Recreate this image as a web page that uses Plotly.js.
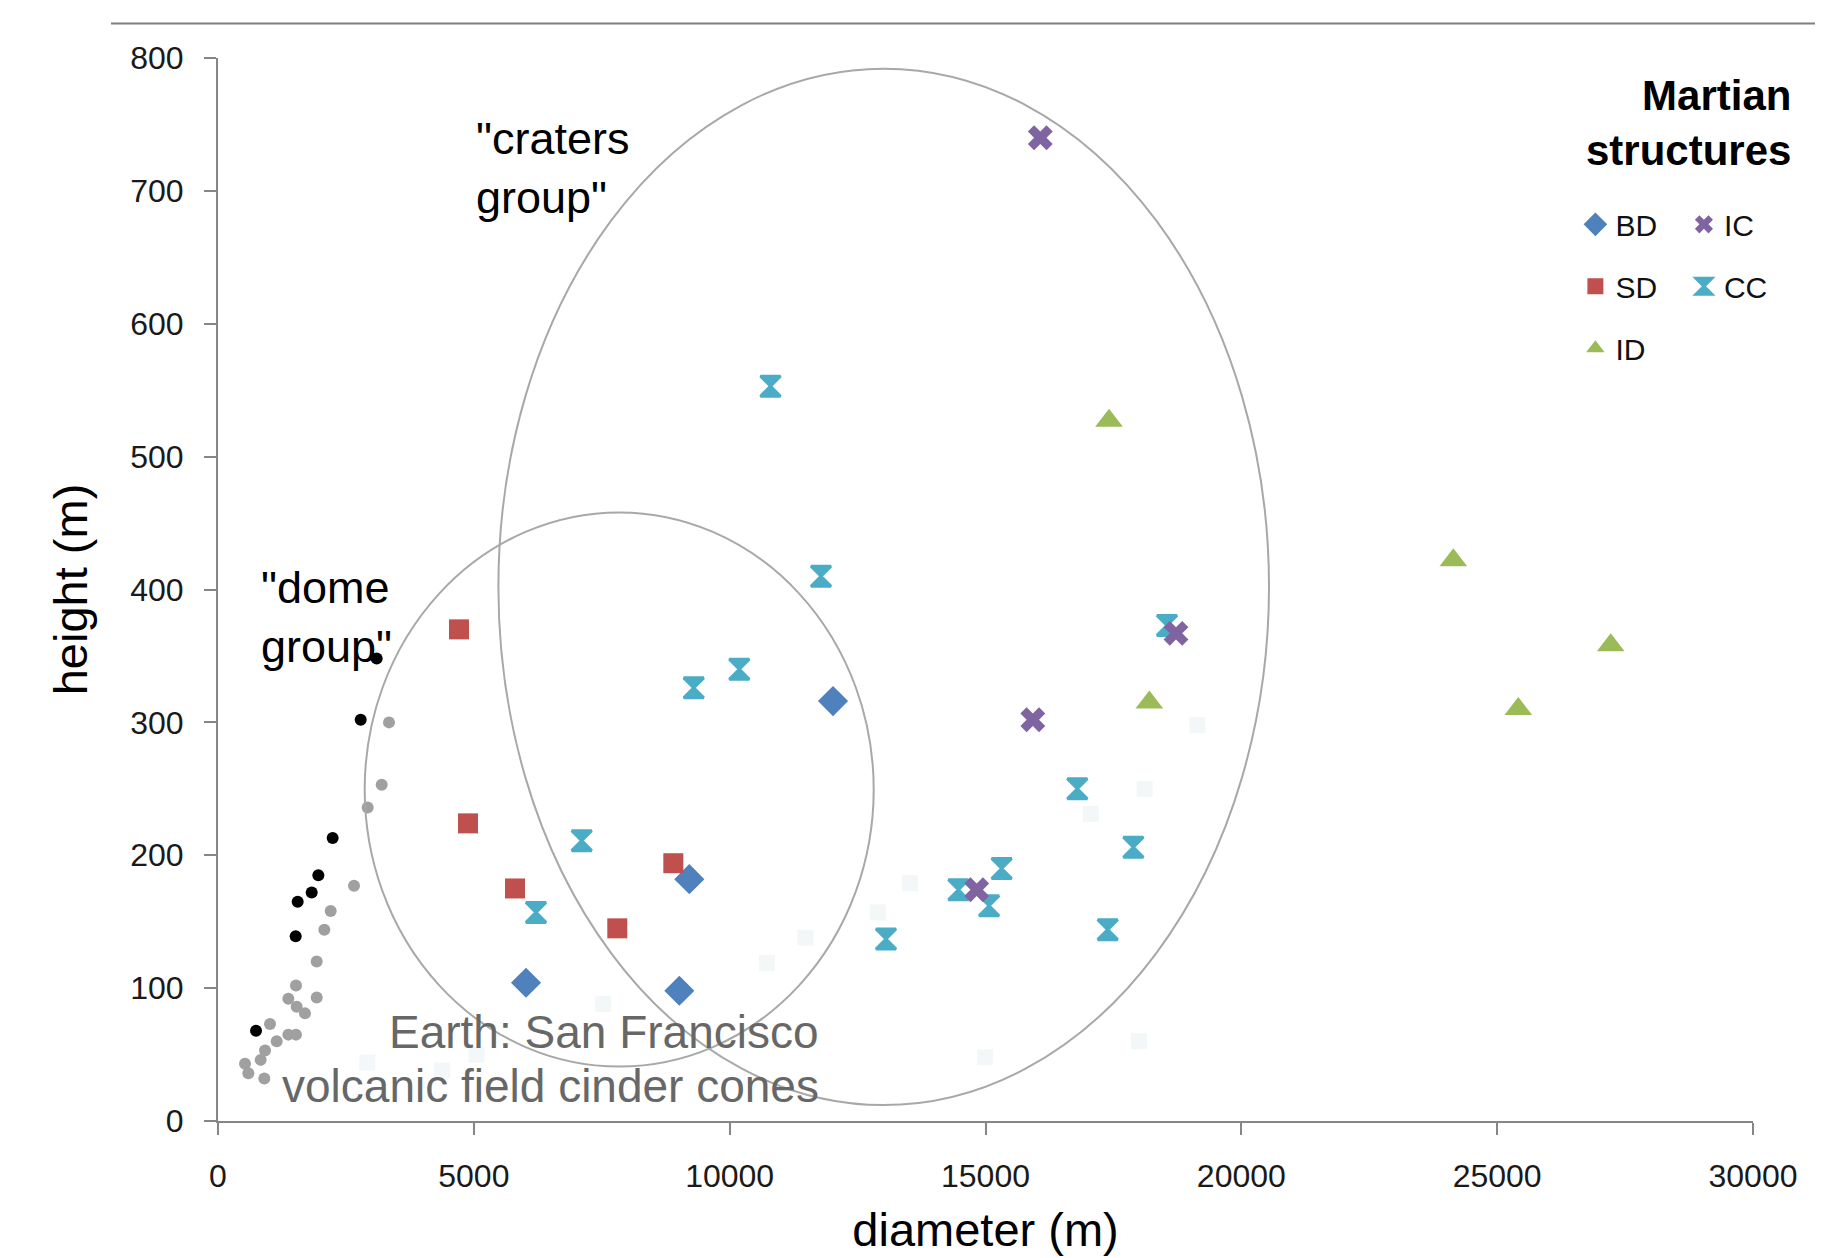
<!DOCTYPE html>
<html>
<head>
<meta charset="utf-8">
<script src="https://cdn.plot.ly/plotly-3.0.1.min.js"></script>
<style>html,body{margin:0;padding:0;background:#fff;}#chart{width:1839px;height:1258px;}</style>
</head>
<body>
<div id="chart"></div>
<script>
// ---- Martian structures ----
const bdDiameter = [6020, 9016, 9211, 12020];
const bdHeight   = [104, 98, 182, 316];

const sdDiameter = [4710, 4886, 5805, 7804, 8899];
const sdHeight   = [370, 224, 175, 145, 194];

const idDiameter = [17414, 18202, 24143, 25413, 27219];
const idHeight   = [527, 315, 422, 310, 358];

const icDiameter = [14828, 15925, 16071, 18723];
const icHeight   = [174, 302, 740, 367];

const ccDiameter = [6215, 7108, 9298, 10188, 10798, 11785, 13055, 14470, 15070, 15316, 16795, 17388, 17890, 18547];
const ccHeight   = [157, 211, 326, 340, 553, 410, 137, 174, 162, 190, 250, 144, 206, 373];

// ---- Earth: San Francisco volcanic field cinder cones ----
const earthBlackDiameter = [743, 1518, 1557, 1831, 1961, 2241, 2789, 3101];
const earthBlackHeight   = [68, 139, 165, 172, 185, 213, 302, 348];

const earthGrayDiameter = [528, 593, 834, 905, 919, 1016, 1147, 1375, 1524, 1375, 1538, 1700, 1524, 1929, 1929, 2078, 2202, 2658, 2925, 3199, 3342];
const earthGrayHeight   = [43, 36, 46, 32, 53, 73, 60, 65, 65, 92, 86, 81, 102, 93, 120, 144, 158, 177, 236, 253, 300];

// very faint background points
const faintDiameter = [2918, 4378, 5052, 7525, 10730, 11480, 12900, 13524, 14990, 17056, 17996, 18110, 19140];
const faintHeight   = [44, 38, 50, 88, 119, 138, 157, 179, 48, 231, 60, 250, 298];

const xTicks = [0, 5000, 10000, 15000, 20000, 25000, 30000];
const yTicks = [0, 100, 200, 300, 400, 500, 600, 700, 800];

const FONT = 'Liberation Sans, Arial, sans-serif';

const traces = [
  {x: faintDiameter, y: faintHeight, type: 'scatter', mode: 'markers', showlegend: false, hoverinfo: 'skip',
   marker: {symbol: 'square', size: 16, color: '#f3f7f7'}},
  {x: earthGrayDiameter, y: earthGrayHeight, type: 'scatter', mode: 'markers', showlegend: false, name: 'Earth (gray)',
   marker: {symbol: 'circle', size: 12, color: '#a0a0a0'}},
  {x: earthBlackDiameter, y: earthBlackHeight, type: 'scatter', mode: 'markers', showlegend: false, name: 'Earth (black)',
   marker: {symbol: 'circle', size: 12, color: '#000000'}},
  {x: bdDiameter, y: bdHeight, type: 'scatter', mode: 'markers', name: 'BD', legend: 'legend', legendgroup: 'bd',
   marker: {symbol: 'diamond', size: 21, color: '#4F81BD', line: {color: '#4F81BD', width: 2}}},
  {x: sdDiameter, y: sdHeight, type: 'scatter', mode: 'markers', name: 'SD', legend: 'legend', legendgroup: 'sd',
   marker: {symbol: 'square', size: 20, color: '#C0504D'}},
  {x: idDiameter, y: idHeight, type: 'scatter', mode: 'markers', name: 'ID', legend: 'legend', legendgroup: 'id',
   marker: {symbol: 'triangle-up', size: 24, color: '#9BBB59'}},
  {x: ccDiameter, y: ccHeight, type: 'scatter', mode: 'markers', name: 'CC', legend: 'legend2', legendgroup: 'cc',
   marker: {symbol: 'hourglass', size: 20, color: '#4BACC6', line: {color: '#4BACC6', width: 3}}},
  {x: icDiameter, y: icHeight, type: 'scatter', mode: 'markers', name: 'IC', legend: 'legend2', legendgroup: 'ic',
   marker: {symbol: 'x', size: 22, color: '#8064A2'}}
];
// legend2 order: IC above CC
traces[6].legendrank = 2; traces[7].legendrank = 1;

const axisCommon = {
  showgrid: false, zeroline: false, showline: true, linecolor: '#868686', linewidth: 2,
  ticks: 'outside', ticklen: 12, tickwidth: 2, tickcolor: '#868686',
  tickfont: {family: FONT, size: 32, color: '#1a1a1a'}, fixedrange: true
};

const layout = {
  width: 1839, height: 1258,
  paper_bgcolor: '#ffffff', plot_bgcolor: '#ffffff',
  margin: {l: 218, r: 86, t: 58, b: 137},
  font: {family: FONT},
  xaxis: Object.assign({}, axisCommon, {
    range: [0, 30000], tickvals: xTicks, ticktext: xTicks.map(String), ticklabelstandoff: 14,
    title: {text: 'diameter (m)', font: {family: FONT, size: 47, color: '#000'}, standoff: 20}
  }),
  yaxis: Object.assign({}, axisCommon, {
    range: [0, 800], tickvals: yTicks, ticktext: yTicks.map(String), ticklabelstandoff: 14,
    title: {text: 'height (m)', font: {family: FONT, size: 47, color: '#000'}, standoff: 28}
  }),
  legend: {
    x: 0.8843, y: 0.868, xanchor: 'left', yanchor: 'top', orientation: 'v',
    traceorder: 'grouped', tracegroupgap: 20, itemsizing: 'trace',
    font: {family: FONT, size: 30, color: '#111'}, bgcolor: 'rgba(0,0,0,0)'
  },
  legend2: {
    x: 0.955, y: 0.868, xanchor: 'left', yanchor: 'top', orientation: 'v',
    traceorder: 'grouped', tracegroupgap: 20, itemsizing: 'trace',
    font: {family: FONT, size: 30, color: '#111'}, bgcolor: 'rgba(0,0,0,0)'
  },
  shapes: [
    // top rule line of the figure
    {type: 'line', xref: 'paper', yref: 'paper', x0: -0.0697, x1: 1.0404, y0: 1.0325, y1: 1.0325,
     line: {color: '#7f7f7f', width: 2}},
    // "craters group" ellipse
    {type: 'circle', xref: 'x', yref: 'y', x0: 5480, x1: 20541, y0: 12, y1: 792,
     line: {color: '#a8a8a8', width: 2}},
    // "dome group" ellipse
    {type: 'circle', xref: 'x', yref: 'y', x0: 2867, x1: 12815, y0: 41, y1: 458,
     line: {color: '#a8a8a8', width: 2}}
  ],
  annotations: [
    {text: '"craters<br>group"', x: 5003, y: 717, xref: 'x', yref: 'y', xanchor: 'left', yanchor: 'middle',
     align: 'left', showarrow: false, font: {family: FONT, size: 45, color: '#000'}},
    {text: '"dome<br>group"', x: 800, y: 379, xref: 'x', yref: 'y', xanchor: 'left', yanchor: 'middle',
     align: 'left', showarrow: false, font: {family: FONT, size: 45, color: '#000'}},
    {text: 'Earth: San Francisco', x: 11780, y: 67, xref: 'x', yref: 'y', xanchor: 'right', yanchor: 'middle',
     align: 'right', showarrow: false, font: {family: FONT, size: 46, color: '#676767'}},
    {text: 'volcanic field cinder cones', x: 11780, y: 26, xref: 'x', yref: 'y', xanchor: 'right', yanchor: 'middle',
     align: 'right', showarrow: false, font: {family: FONT, size: 46, color: '#676767'}},
    {text: '<b>Martian<br>structures</b>', x: 1.0262, y: 0.9384, xref: 'paper', yref: 'paper', xanchor: 'right', yanchor: 'middle',
     align: 'right', showarrow: false, font: {family: FONT, size: 42, color: '#000'}}
  ]
};

Plotly.newPlot('chart', traces, layout, {displayModeBar: false, staticPlot: true});
</script>
</body>
</html>
